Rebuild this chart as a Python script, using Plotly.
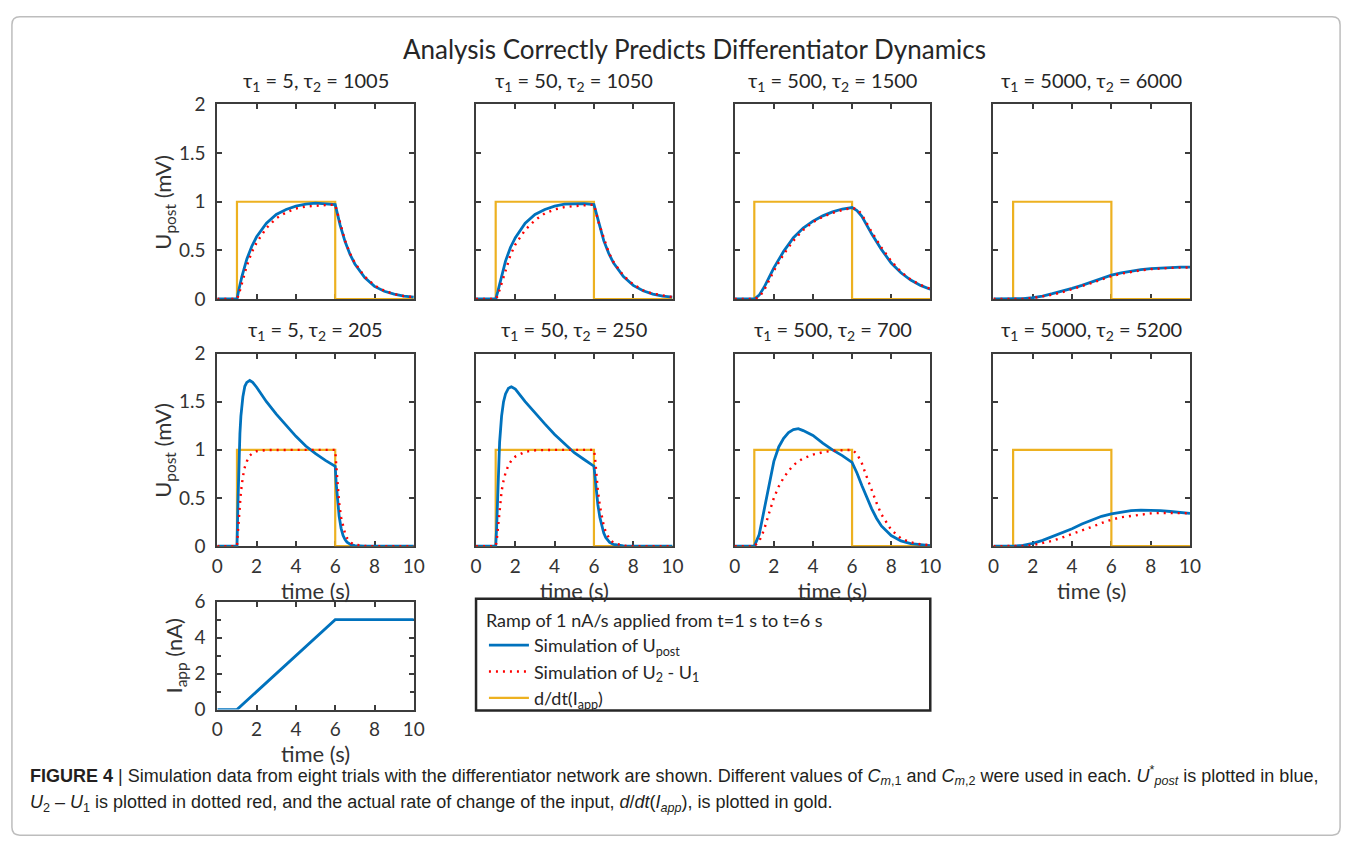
import plotly.graph_objects as go

W, H = 1357, 851

# ---------------- data ----------------
titles = [
    "τ<sub>1</sub> = 5, τ<sub>2</sub> = 1005",
    "τ<sub>1</sub> = 50, τ<sub>2</sub> = 1050",
    "τ<sub>1</sub> = 500, τ<sub>2</sub> = 1500",
    "τ<sub>1</sub> = 5000, τ<sub>2</sub> = 6000",
    "τ<sub>1</sub> = 5, τ<sub>2</sub> = 205",
    "τ<sub>1</sub> = 50, τ<sub>2</sub> = 250",
    "τ<sub>1</sub> = 500, τ<sub>2</sub> = 700",
    "τ<sub>1</sub> = 5000, τ<sub>2</sub> = 5200",
]

# panel 1 & 2 (slow tau2 ~ 1 s)
t_p12 = [0, 1, 1.1, 1.25, 1.5, 1.75, 2, 2.5, 3, 3.5, 4, 4.5, 5, 5.5, 6,
         6.25, 6.5, 6.75, 7, 7.5, 8, 8.5, 9, 9.5, 10]
blue_p1 = [0, 0, 0.10, 0.23, 0.41, 0.54, 0.64, 0.78, 0.87, 0.92, 0.955, 0.975, 0.985, 0.98, 0.97,
           0.76, 0.59, 0.46, 0.36, 0.22, 0.13, 0.08, 0.05, 0.03, 0.02]
red_p1 = [0, 0, 0.05, 0.16, 0.34, 0.48, 0.58, 0.73, 0.83, 0.89, 0.93, 0.95, 0.96, 0.965, 0.97,
          0.77, 0.60, 0.47, 0.37, 0.23, 0.14, 0.085, 0.05, 0.03, 0.02]
blue_p2 = [0, 0, 0.07, 0.20, 0.39, 0.53, 0.63, 0.78, 0.87, 0.92, 0.955, 0.975, 0.98, 0.98, 0.97,
           0.77, 0.60, 0.47, 0.37, 0.23, 0.14, 0.085, 0.05, 0.03, 0.02]
red_p2 = [0, 0, 0.03, 0.13, 0.30, 0.45, 0.56, 0.71, 0.81, 0.88, 0.92, 0.945, 0.955, 0.965, 0.97,
          0.78, 0.62, 0.48, 0.38, 0.24, 0.15, 0.09, 0.055, 0.035, 0.02]

# panel 3
t_p3 = [0, 1, 1.25, 1.5, 1.75, 2, 2.5, 3, 3.5, 4, 4.5, 5, 5.5, 6,
        6.25, 6.5, 7, 7.5, 8, 8.5, 9, 9.5, 10]
blue_p3 = [0, 0, 0.04, 0.12, 0.22, 0.32, 0.49, 0.63, 0.73, 0.80, 0.855, 0.895, 0.925, 0.94,
           0.91, 0.85, 0.67, 0.51, 0.37, 0.27, 0.195, 0.14, 0.10]
red_p3 = [0, 0, 0.02, 0.09, 0.19, 0.29, 0.46, 0.60, 0.71, 0.79, 0.845, 0.885, 0.915, 0.935,
          0.925, 0.87, 0.69, 0.53, 0.39, 0.28, 0.20, 0.145, 0.105]

# panel 4 and 8 (very slow)
t_p48 = [0, 1, 1.5, 2, 2.5, 3, 3.5, 4, 4.5, 5, 5.5, 6, 6.5, 7, 7.5, 8, 8.5, 9, 9.5, 10]
blue_p4 = [0, 0, 0.004, 0.015, 0.03, 0.055, 0.08, 0.11, 0.14, 0.175, 0.21, 0.245,
           0.268, 0.287, 0.302, 0.313, 0.32, 0.325, 0.327, 0.327]
red_p4 = [0, 0, 0.002, 0.01, 0.025, 0.045, 0.07, 0.10, 0.13, 0.165, 0.20, 0.235,
          0.26, 0.28, 0.295, 0.307, 0.315, 0.32, 0.323, 0.325]
blue_p8 = [0, 0, 0.008, 0.03, 0.06, 0.10, 0.14, 0.18, 0.23, 0.27, 0.31, 0.335,
           0.355, 0.368, 0.374, 0.373, 0.368, 0.36, 0.35, 0.34]
red_p8 = [0, 0, 0.002, 0.01, 0.03, 0.055, 0.09, 0.125, 0.165, 0.20, 0.24, 0.275,
          0.30, 0.315, 0.33, 0.34, 0.345, 0.346, 0.345, 0.342]

# panels 5 & 6 (fast)
t_p56 = [0, 1, 1.05, 1.1, 1.15, 1.2, 1.3, 1.4, 1.5, 1.65, 1.8, 2, 2.5, 3, 3.5, 4, 4.5, 5, 5.5, 6,
         6.05, 6.1, 6.2, 6.3, 6.4, 6.5, 6.6, 6.8, 7, 7.5, 8, 10]
blue_p5 = [0, 0, 0.45, 0.90, 1.17, 1.35, 1.55, 1.66, 1.70, 1.72, 1.70, 1.65, 1.50, 1.37, 1.25, 1.14,
           1.04, 0.96, 0.89, 0.83, 0.65, 0.50, 0.31, 0.185, 0.11, 0.068, 0.041, 0.015, 0.006, 0, 0, 0]
red_p5 = [0, 0, 0.15, 0.30, 0.45, 0.56, 0.72, 0.82, 0.88, 0.94, 0.965, 0.985, 0.998, 1, 1, 1,
          1, 1, 1, 1, 0.85, 0.68, 0.45, 0.30, 0.20, 0.13, 0.085, 0.035, 0.015, 0.002, 0, 0]
blue_p6 = [0, 0, 0.20, 0.50, 0.85, 1.08, 1.35, 1.50, 1.58, 1.64, 1.655, 1.63, 1.50, 1.38, 1.27, 1.16,
           1.06, 0.97, 0.90, 0.83, 0.73, 0.61, 0.43, 0.30, 0.20, 0.135, 0.09, 0.04, 0.018, 0.003, 0, 0]
red_p6 = [0, 0, 0.05, 0.15, 0.28, 0.40, 0.57, 0.68, 0.76, 0.84, 0.89, 0.93, 0.98, 0.995, 1, 1,
          1, 1, 1, 1, 0.93, 0.80, 0.58, 0.42, 0.30, 0.21, 0.15, 0.07, 0.035, 0.005, 0, 0]

# panel 7
t_p7 = [0, 1, 1.25, 1.5, 1.75, 2, 2.25, 2.5, 2.75, 3, 3.25, 3.5, 4, 4.5, 5, 5.5, 6,
        6.25, 6.5, 6.75, 7, 7.25, 7.5, 8, 8.5, 9, 9.5, 10]
blue_p7 = [0, 0, 0.12, 0.38, 0.65, 0.88, 1.03, 1.12, 1.18, 1.21, 1.22, 1.20, 1.15, 1.07, 1.0, 0.94, 0.87,
           0.76, 0.63, 0.50, 0.39, 0.29, 0.21, 0.11, 0.055, 0.027, 0.013, 0.006]
red_p7 = [0, 0, 0.05, 0.17, 0.34, 0.50, 0.62, 0.71, 0.78, 0.84, 0.88, 0.91, 0.95, 0.975, 0.99, 0.995, 1.0,
          0.96, 0.86, 0.72, 0.58, 0.45, 0.33, 0.17, 0.08, 0.04, 0.02, 0.01]

# input rate (gold) and applied current ramp
t_gold = [0, 1, 1, 6, 6, 10]
gold_vals = [0, 0, 1, 1, 0, 0]
t_iapp = [0, 1, 6, 10]
iapp_vals = [0, 0, 5, 5]

panels = [
    (t_p12, blue_p1, red_p1), (t_p12, blue_p2, red_p2), (t_p3, blue_p3, red_p3), (t_p48, blue_p4, red_p4),
    (t_p56, blue_p5, red_p5), (t_p56, blue_p6, red_p6), (t_p7, blue_p7, red_p7), (t_p48, blue_p8, red_p8),
]

x_ticks = [0, 2, 4, 6, 8, 10]
y_ticks = [0, 0.5, 1, 1.5, 2]
y_ticklabels = ["0", "0.5", "1", "1.5", "2"]
iapp_ticks = [0, 2, 4, 6]

# ---------------- style ----------------
BLUE = "#0072BD"
RED = "#FF0000"
GOLD = "#EDB120"
AX = "#3c3c3c"
TXT = "#333333"
FONT = "Lato"
CAPFONT = "Liberation Sans, Arial"

col_px = [(214, 413), (476, 675), (738, 936), (1000, 1199)]
row_px = [(95, 295), (351, 549)]
iapp_px = ((214, 413), (606, 717))


def fx(px):
    return px / W


def fy(py):
    return 1 - py / H


fig = go.Figure()

for i, (t, b, r) in enumerate(panels):
    n = i + 1
    xa = "x" if n == 1 else f"x{n}"
    ya = "y" if n == 1 else f"y{n}"
    first = (i == 0)
    fig.add_trace(go.Scatter(x=t_gold, y=gold_vals, mode="lines", line=dict(color=GOLD, width=2.2),
                             name="d/dt(I<sub>app</sub>)", legendrank=3, showlegend=first,
                             xaxis=xa, yaxis=ya, cliponaxis=False, hoverinfo="skip"))
    fig.add_trace(go.Scatter(x=t, y=b, mode="lines", line=dict(color=BLUE, width=2.8),
                             name="Simulation of U<sub>post</sub>", legendrank=1, showlegend=first,
                             xaxis=xa, yaxis=ya, cliponaxis=False, hoverinfo="skip"))
    fig.add_trace(go.Scatter(x=t, y=r, mode="lines", line=dict(color=RED, width=2.4, dash="2px,5px"),
                             name="Simulation of U<sub>2</sub> - U<sub>1</sub>", legendrank=2, showlegend=first,
                             xaxis=xa, yaxis=ya, cliponaxis=False, hoverinfo="skip"))

fig.add_trace(go.Scatter(x=t_iapp, y=iapp_vals, mode="lines", line=dict(color=BLUE, width=2.8),
                         showlegend=False, xaxis="x9", yaxis="y9", cliponaxis=False, hoverinfo="skip"))

common = dict(showline=True, linecolor=AX, linewidth=2, mirror="ticks", ticks="inside",
              ticklen=5, tickwidth=1.5, tickcolor=AX, showgrid=False, zeroline=False,
              tickfont=dict(family=FONT, size=19, color=TXT), fixedrange=True, layer="below traces")

layout = {}
for i in range(8):
    n = i + 1
    r, c = divmod(i, 4)
    xk = "xaxis" if n == 1 else f"xaxis{n}"
    yk = "yaxis" if n == 1 else f"yaxis{n}"
    x0, x1 = col_px[c]
    y0, y1 = row_px[r]
    xa = dict(common, domain=[fx(x0), fx(x1)], range=[0, 10], tickvals=x_ticks,
              showticklabels=(r == 1), anchor="y" if n == 1 else f"y{n}", ticklabelstandoff=2)
    if r == 1:
        xa["title"] = dict(text="time (s)", font=dict(family=FONT, size=22, color=TXT), standoff=6)
    ya = dict(common, domain=[fy(y1), fy(y0)], range=[0, 2], tickvals=y_ticks, ticktext=y_ticklabels,
              showticklabels=(c == 0), anchor="x" if n == 1 else f"x{n}", ticklabelstandoff=6)
    layout[xk] = xa
    layout[yk] = ya

(ix0, ix1), (iy0, iy1) = iapp_px
layout["xaxis9"] = dict(common, domain=[fx(ix0), fx(ix1)], range=[0, 10], tickvals=x_ticks,
                        anchor="y9", ticklabelstandoff=2,
                        title=dict(text="time (s)", font=dict(family=FONT, size=22, color=TXT), standoff=6))
layout["yaxis9"] = dict(common, domain=[fy(iy1), fy(iy0)], range=[0, 6], tickvals=iapp_ticks,
                        anchor="x9", ticklabelstandoff=6,
                        minor=dict(ticks="inside", dtick=1, ticklen=4, tickcolor=AX, tickwidth=1.5))

annotations = [
    dict(text="Analysis Correctly Predicts Differentiator Dynamics", x=fx(697), y=fy(38), xref="paper", yref="paper",
         showarrow=False, font=dict(family=FONT, size=26, color="#262626"), xanchor="center", yanchor="middle"),
]
# y-axis titles (rotated)
for (yt, yb), txt, xc in [(row_px[0], "U<sub>post</sub> (mV)", 160), (row_px[1], "U<sub>post</sub> (mV)", 160),
                          (iapp_px[1], "I<sub>app</sub> (nA)", 171)]:
    annotations.append(dict(text=txt, x=fx(xc), y=fy((yt + yb) / 2), xref="paper", yref="paper",
                            showarrow=False, textangle=-90, xanchor="center", yanchor="middle",
                            font=dict(family=FONT, size=22, color=TXT)))
for i, ttl in enumerate(titles):
    r, c = divmod(i, 4)
    x0, x1 = col_px[c]
    y0, _ = row_px[r]
    annotations.append(dict(text=ttl, x=fx((x0 + x1) / 2), y=fy(y0 - 8), xref="paper", yref="paper",
                            showarrow=False, font=dict(family=FONT, size=20, color="#262626"),
                            xanchor="center", yanchor="bottom"))

cap1 = ("<b>FIGURE 4</b> | Simulation data from eight trials with the differentiator network are shown. "
        "Different values of <i>C</i><sub><i>m</i>,1</sub> and <i>C</i><sub><i>m</i>,2</sub> were used in each. "
        "<i>U</i><sup>*</sup><sub><i>post</i></sub> is plotted in blue,")
cap2 = ("<i>U</i><sub>2</sub> – <i>U</i><sub>1</sub> is plotted in dotted red, and the actual rate of change of the input, "
        "<i>d</i>/<i>dt</i>(<i>I</i><sub><i>app</i></sub>), is plotted in gold.")
for txt, yy in [(cap1, 785), (cap2, 813)]:
    annotations.append(dict(text=txt, x=fx(22), y=fy(yy), xref="paper", yref="paper", showarrow=False,
                            xanchor="left", yanchor="middle", align="left",
                            font=dict(family=CAPFONT, size=18, color="#231f20")))


def rounded_rect(x0, y0, x1, y1, r):
    rx, ry = r / W, r / H
    X0, X1 = fx(x0), fx(x1)
    Y0, Y1 = fy(y0), fy(y1)
    return (f"M {X0 + rx},{Y0} L {X1 - rx},{Y0} Q {X1},{Y0} {X1},{Y0 - ry} "
            f"L {X1},{Y1 + ry} Q {X1},{Y1} {X1 - rx},{Y1} L {X0 + rx},{Y1} Q {X0},{Y1} {X0},{Y1 + ry} "
            f"L {X0},{Y0 - ry} Q {X0},{Y0} {X0 + rx},{Y0} Z")


shapes = [
    dict(type="path", path=rounded_rect(6, 5, 1351, 846, 8), xref="paper", yref="paper",
         line=dict(color="#bdbdbd", width=1.5)),
    dict(type="rect", x0=fx(476), x1=fx(936), y0=fy(718), y1=fy(603), xref="paper", yref="paper",
         line=dict(color="#262626", width=2.5)),
]

fig.update_layout(
    width=W, height=H, margin=dict(l=0, r=0, t=0, b=0),
    paper_bgcolor="white", plot_bgcolor="white",
    font=dict(family=FONT, color=TXT),
    annotations=annotations, shapes=shapes,
    showlegend=True,
    legend=dict(x=fx(484), y=fy(608), xanchor="left", yanchor="top", bgcolor="rgba(0,0,0,0)",
                borderwidth=0, font=dict(family=FONT, size=18, color="#262626"), itemwidth=40,
                title=dict(text="Ramp of 1 nA/s applied from t=1 s to t=6 s", font=dict(family=FONT, size=18, color="#262626")),
                tracegroupgap=0, traceorder="normal"),
    **layout,
)

fig.write_html("out.html", config={"displayModeBar": False})
